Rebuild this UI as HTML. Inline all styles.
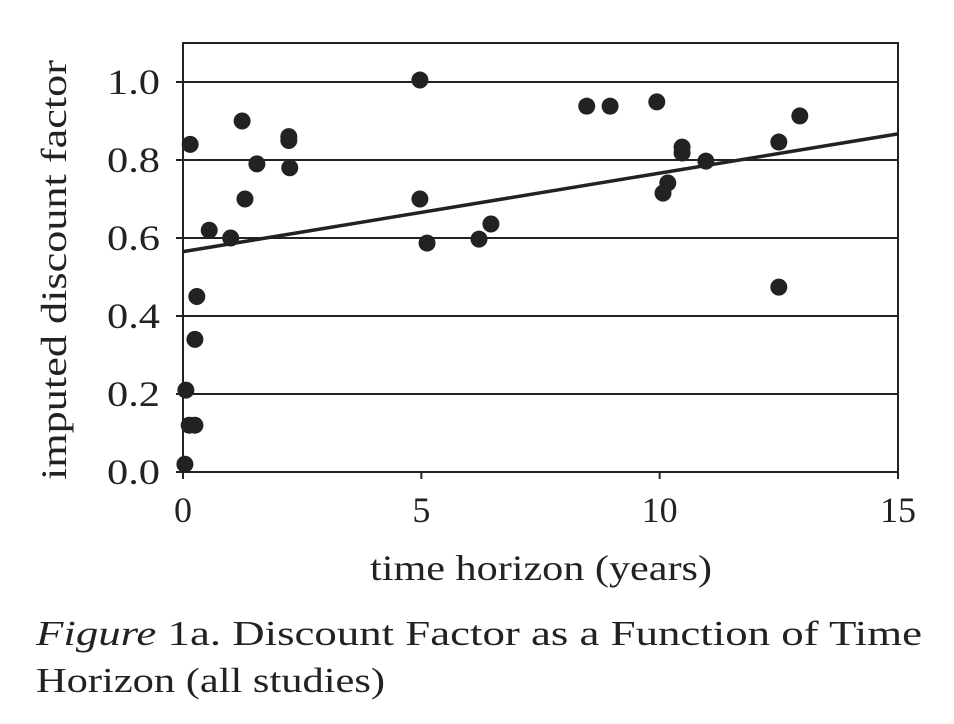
<!DOCTYPE html>
<html><head><meta charset="utf-8"><style>
html,body{margin:0;padding:0;background:#fff;}
svg{display:block;font-family:"Liberation Serif",serif;}
</style></head><body>
<svg width="954" height="724" viewBox="0 0 954 724">
<g id="grid"></g>
<rect x="183" y="43" width="715" height="429" fill="none" stroke="#222" stroke-width="2"/>
<g id="ticks"></g>
<g id="marks"></g>
<text x="370" y="580" font-size="36" textLength="342" lengthAdjust="spacingAndGlyphs" fill="#222">time horizon (years)</text>
<text transform="translate(66,270) rotate(-90)" font-size="36" text-anchor="middle" textLength="420" lengthAdjust="spacingAndGlyphs" fill="#222">imputed discount factor</text>
<text x="36" y="645" font-size="35" textLength="886" lengthAdjust="spacingAndGlyphs" fill="#222"><tspan font-style="italic">Figure</tspan> 1a.  Discount Factor as a Function of Time</text>
<text x="36" y="692" font-size="35" textLength="349" lengthAdjust="spacingAndGlyphs" fill="#222">Horizon (all studies)</text>
</svg>
<script>
const xTicks=[0,5,10,15];
const yTicks=[0.0,0.2,0.4,0.6,0.8,1.0];
const yTickLabels=["0.0","0.2","0.4","0.6","0.8","1.0"];
const xVals=[0.04,0.06,0.13,0.25,0.15,0.25,0.29,0.55,1.0,1.24,1.3,1.55,2.22,2.22,2.24,4.97,4.97,5.12,6.21,6.46,8.47,8.96,9.94,10.07,10.17,10.47,10.47,10.97,12.5,12.5,12.94];
const yVals=[0.02,0.21,0.12,0.12,0.84,0.34,0.45,0.62,0.60,0.90,0.70,0.79,0.86,0.85,0.78,1.005,0.70,0.587,0.597,0.636,0.938,0.938,0.949,0.715,0.741,0.833,0.818,0.797,0.474,0.846,0.913];
const fitX=[0,15];
const fitY=[0.565,0.867];
const NS="http://www.w3.org/2000/svg";
const X=v=>183+v*715/15;
const Y=v=>472-v*390;
function mk(t,a,p){const e=document.createElementNS(NS,t);for(const k in a)e.setAttribute(k,a[k]);p.appendChild(e);return e;}
const grid=document.getElementById('grid'),ticks=document.getElementById('ticks'),marks=document.getElementById('marks');
yTicks.forEach((v,i)=>{
 if(v>0){const l=mk('line',{x1:183,x2:898,y1:Y(v),y2:Y(v),stroke:'#222','stroke-width':2},grid);
 
 }
 const tk=mk('line',{x1:176,x2:183,y1:Y(v),y2:Y(v),stroke:'#222','stroke-width':2},ticks);
 
 
 const t=mk('text',{x:160,y:Y(v)+12,'font-size':36,'text-anchor':'end',textLength:53,lengthAdjust:'spacingAndGlyphs',fill:'#222'},ticks);
 t.textContent=yTickLabels[i];
 
 
});
xTicks.forEach(v=>{
 const tk=mk('line',{x1:X(v),x2:X(v),y1:472,y2:479,stroke:'#222','stroke-width':2},ticks);
 
 
 const t=mk('text',{x:X(v),y:522,'font-size':36,'text-anchor':'middle',fill:'#222'},ticks);
 t.textContent=String(v);
 
 
});
const fl=mk('line',{x1:X(fitX[0]),y1:Y(fitY[0]),x2:X(fitX[1]),y2:Y(fitY[1]),stroke:'#222','stroke-width':3.5},marks);


xVals.forEach((x,i)=>{
 const c=mk('circle',{cx:X(x),cy:Y(yVals[i]),r:8.5,fill:'#222'},marks);
 
 
});
</script>
</body></html>
